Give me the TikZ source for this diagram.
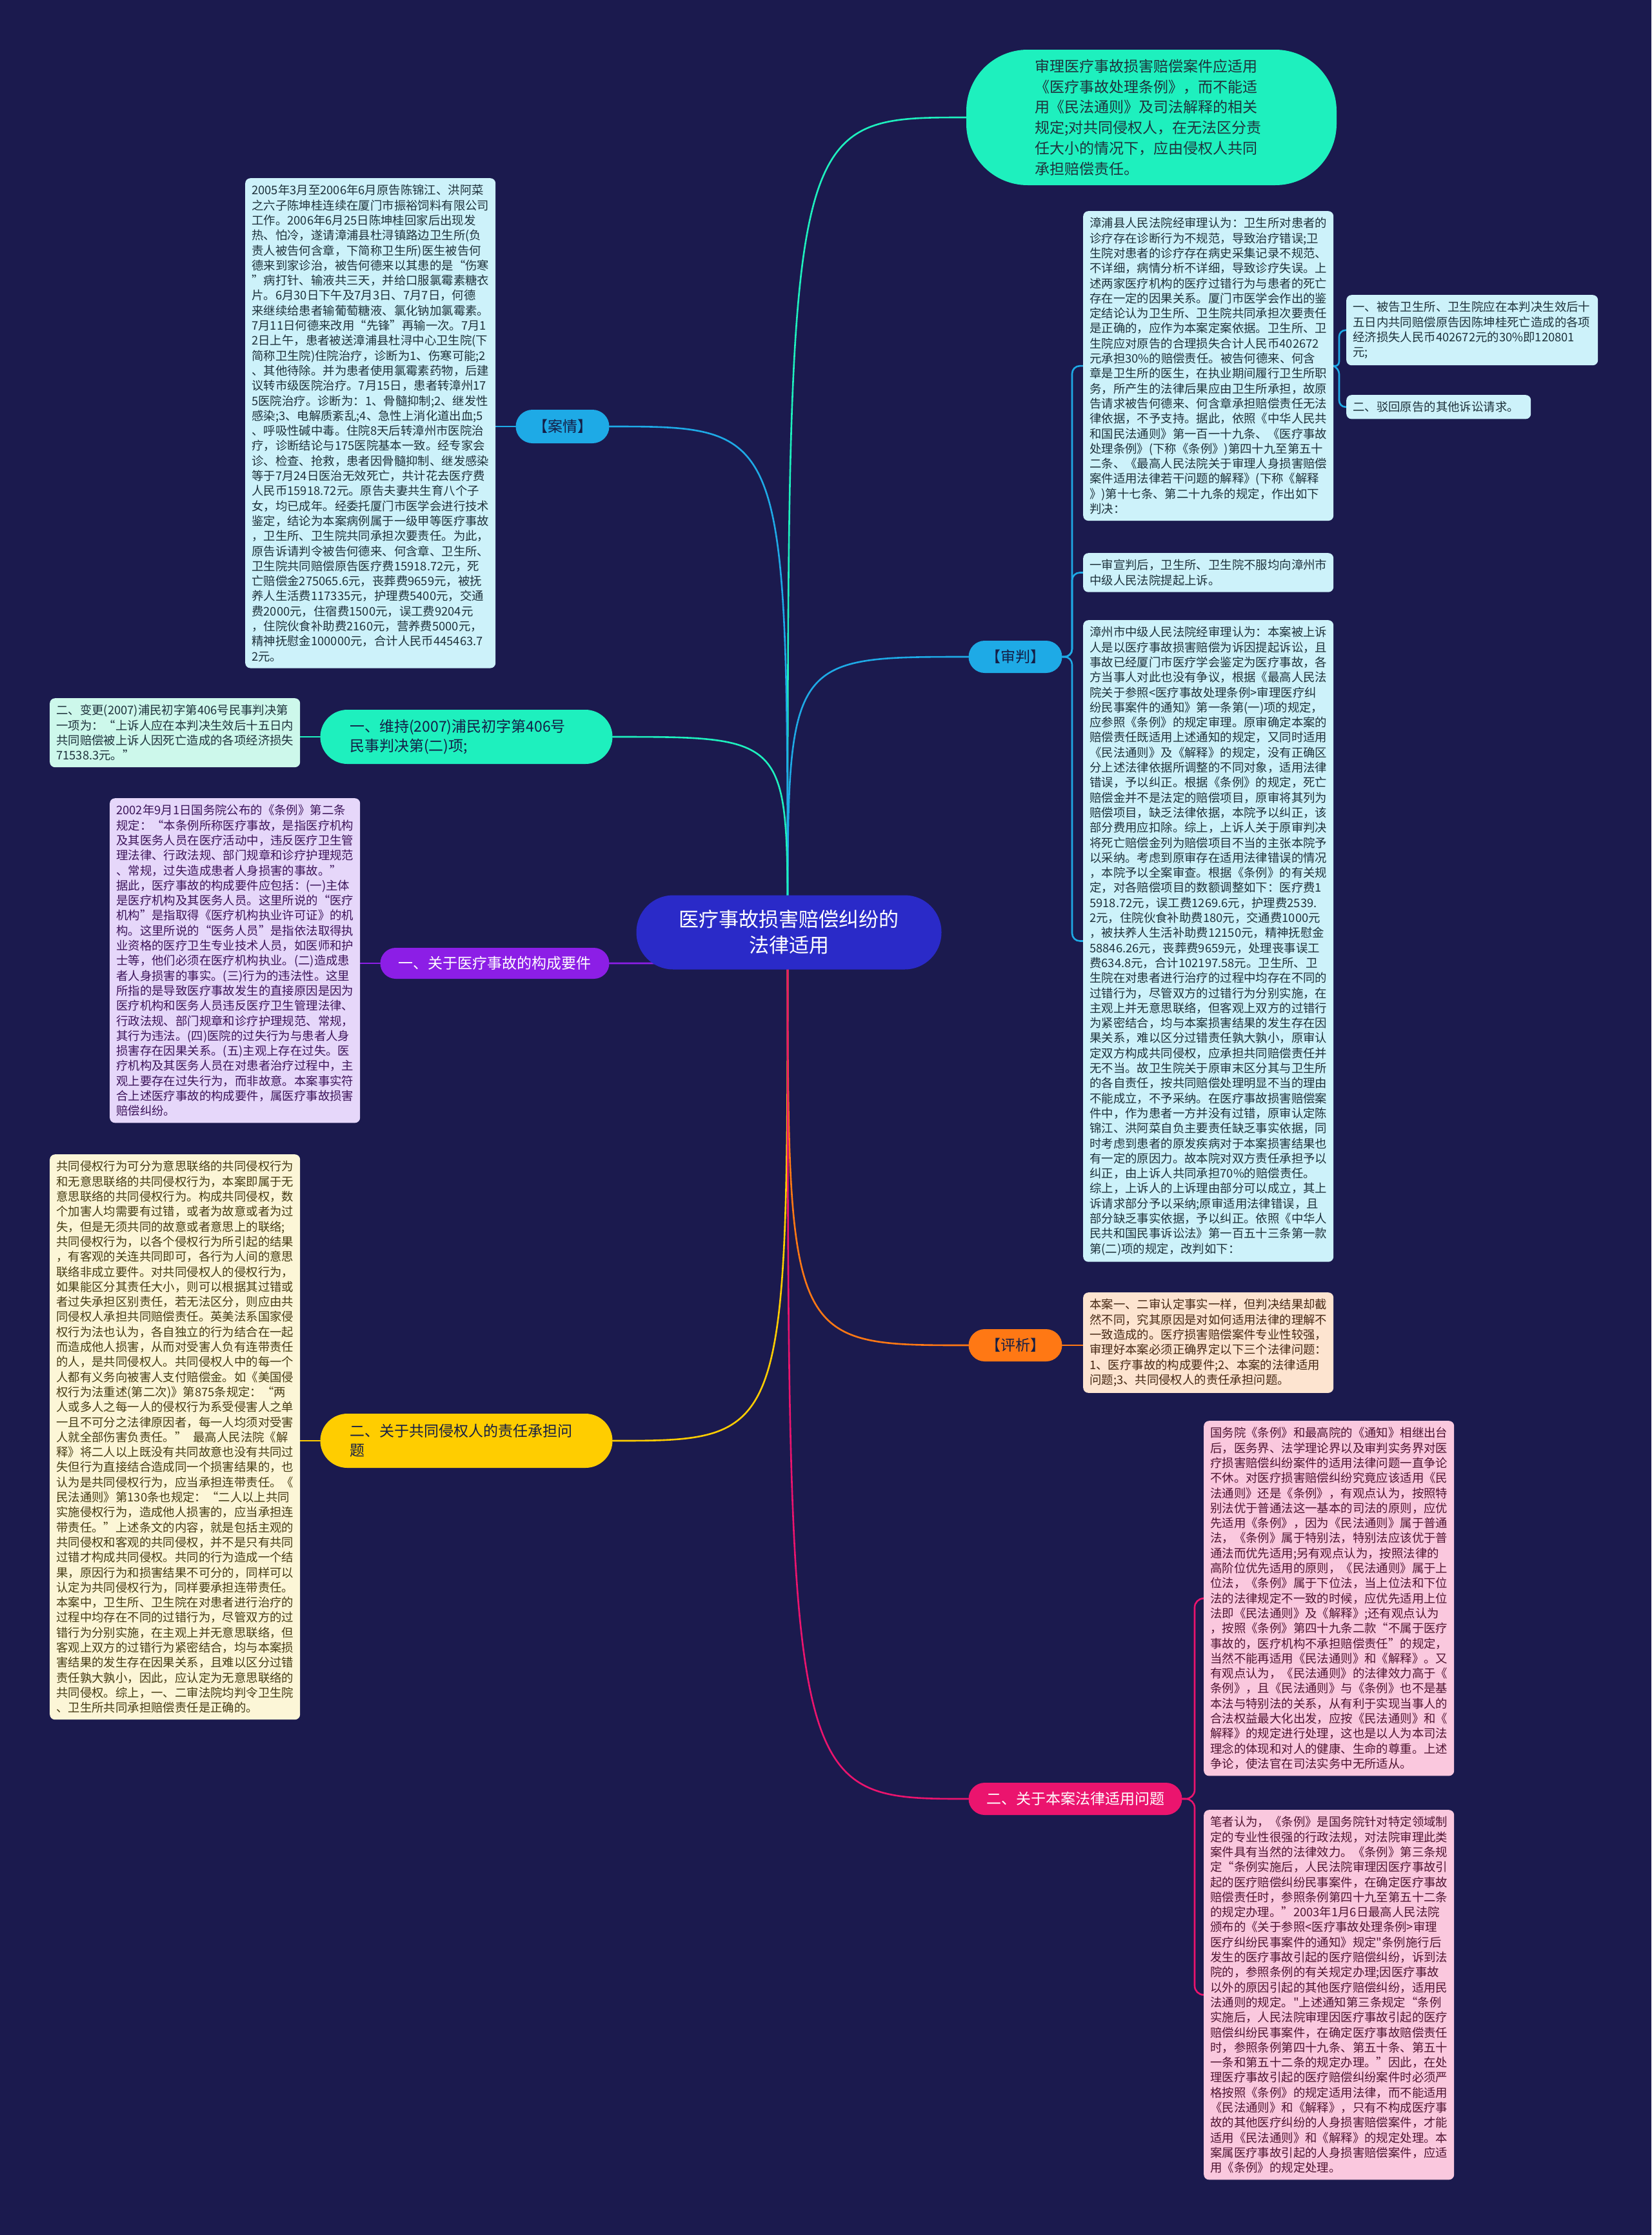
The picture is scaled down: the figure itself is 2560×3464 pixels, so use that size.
\documentclass[tikz,border=0pt]{standalone}
\usepackage{fontspec}
\newfontfamily\cjk{Noto Sans CJK SC}
\usetikzlibrary{calc}
\definecolor{bg}{RGB}{27,26,78}
\definecolor{centerC}{RGB}{42,42,200}
\definecolor{mint}{RGB}{30,240,190}
\definecolor{cyanN}{RGB}{30,170,230}
\definecolor{lcyan}{RGB}{205,242,250}
\definecolor{lmint}{RGB}{205,248,235}
\definecolor{purpN}{RGB}{140,30,230}
\definecolor{lav}{RGB}{230,215,250}
\definecolor{yelN}{RGB}{255,205,0}
\definecolor{lyel}{RGB}{252,246,215}
\definecolor{oraN}{RGB}{255,120,20}
\definecolor{peach}{RGB}{253,228,208}
\definecolor{pinkN}{RGB}{235,20,110}
\definecolor{lpink}{RGB}{250,200,222}
\definecolor{txtA}{RGB}{30,50,60}
\definecolor{txtP}{RGB}{60,20,90}
\definecolor{txtY}{RGB}{70,60,20}
\definecolor{txtO}{RGB}{70,40,20}
\definecolor{txtK}{RGB}{80,20,50}
\definecolor{navy}{RGB}{20,30,70}
\pgfdeclarelayer{back}
\pgfdeclarelayer{lines}
\pgfsetlayers{back,lines,main}
\tikzset{
  box/.style={rounded corners=8, anchor=north west, align=left, inner xsep=10, inner ysep=10,
    font=\cjk\fontsize{18.4}{23.3}\selectfont, text width=368},
  pill/.style={align=center, inner sep=0, font=\cjk\fontsize{23}{30}\selectfont},
  cn/.style={line width=2.6, line cap=round},
}
\newcommand{\crv}[3]{\draw[cn,#1] (#2) .. controls ($(#2)!1!(#2|-#3)$) and ($(#2)!1!(#2|-#3)$) .. (#3);}
\begin{document}
\begin{tikzpicture}[x=1pt,y=-1pt]
\begin{pgfonlayer}{back}
\fill[bg] (0,0) rectangle (2560,3464);
\end{pgfonlayer}
\useasboundingbox (0,0) rectangle (2560,3464);

% center
\node[pill, fill=centerC, text=white, minimum width=473, minimum height=115, rounded corners=57,
  font=\cjk\fontsize{31}{40}\selectfont] (c) at (1223,1445) {医疗事故损害赔偿纠纷的\\法律适用};
\coordinate (cs) at (1221,1445);

% top bubble
\node[pill, fill=mint, text=txtA, minimum width=574, minimum height=210, rounded corners=95,
  text width=362, align=left, font=\cjk\fontsize{23}{31.8}\selectfont] (top) at (1785,182)
{审理医疗事故损害赔偿案件应适用\\《医疗事故处理条例》，而不能适\\用《民法通则》及司法解释的相关\\规定;对共同侵权人，在无法区分责\\任大小的情况下，应由侵权人共同\\承担赔偿责任。};

% branch nodes
\node[pill, fill=cyanN, text=navy, minimum width=145, minimum height=52, rounded corners=26] (anq) at (872,661) {【案情】};
\node[pill, fill=cyanN, text=navy, minimum width=145, minimum height=50, rounded corners=25] (sp) at (1574,1018) {【审判】};
\node[pill, fill=oraN, text=navy, minimum width=145, minimum height=50, rounded corners=25] (px) at (1574,2085) {【评析】};
\node[pill, fill=mint, text=navy, minimum width=453, minimum height=84, rounded corners=42, text width=362, align=left] (wc) at (723,1142) {一、维持(2007)浦民初字第406号\\民事判决第(二)项;};
\node[pill, fill=purpN, text=white, minimum width=355, minimum height=48, rounded corners=24] (gc) at (767,1493) {一、关于医疗事故的构成要件};
\node[pill, fill=yelN, text=navy, minimum width=453, minimum height=84, rounded corners=42, text width=362, align=left] (gt) at (723,2233) {二、关于共同侵权人的责任承担问\\题};
\node[pill, fill=pinkN, text=white, minimum width=331, minimum height=50, rounded corners=25] (fl) at (1667,2788) {二、关于本案法律适用问题};

% text boxes
\node[box, fill=lcyan, text=txtA] (anqb) at (380,276) {2005年3月至2006年6月原告陈锦江、洪阿菜\\之六子陈坤桂连续在厦门市振裕饲料有限公司\\工作。2006年6月25日陈坤桂回家后出现发\\热、怕冷，遂请漳浦县杜浔镇路边卫生所(负\\责人被告何含章，下简称卫生所)医生被告何\\德来到家诊治，被告何德来以其患的是“伤寒\\”病打针、输液共三天，并给口服氯霉素糖衣\\片。6月30日下午及7月3日、7月7日，何德\\来继续给患者输葡萄糖液、氯化钠加氯霉素。\\7月11日何德来改用“先锋”再输一次。7月1\\2日上午，患者被送漳浦县杜浔中心卫生院(下\\简称卫生院)住院治疗，诊断为1、伤寒可能;2\\、其他待除。并为患者使用氯霉素药物，后建\\议转市级医院治疗。7月15日，患者转漳州17\\5医院治疗。诊断为：1、骨髓抑制;2、继发性\\感染;3、电解质紊乱;4、急性上消化道出血;5\\、呼吸性碱中毒。住院8天后转漳州市医院治\\疗，诊断结论与175医院基本一致。经专家会\\诊、检查、抢救，患者因骨髓抑制、继发感染\\等于7月24日医治无效死亡，共计花去医疗费\\人民币15918.72元。原告夫妻共生育八个子\\女，均已成年。经委托厦门市医学会进行技术\\鉴定，结论为本案病例属于一级甲等医疗事故\\，卫生所、卫生院共同承担次要责任。为此，\\原告诉请判令被告何德来、何含章、卫生所、\\卫生院共同赔偿原告医疗费15918.72元，死\\亡赔偿金275065.6元，丧葬费9659元，被抚\\养人生活费117335元，护理费5400元，交通\\费2000元，住宿费1500元，误工费9204元\\，住院伙食补助费2160元，营养费5000元，\\精神抚慰金100000元，合计人民币445463.7\\2元。};

\node[box, fill=lcyan, text=txtA] (zp) at (1679,327) {漳浦县人民法院经审理认为：卫生所对患者的\\诊疗存在诊断行为不规范，导致治疗错误;卫\\生院对患者的诊疗存在病史采集记录不规范、\\不详细，病情分析不详细，导致诊疗失误。上\\述两家医疗机构的医疗过错行为与患者的死亡\\存在一定的因果关系。厦门市医学会作出的鉴\\定结论认为卫生所、卫生院共同承担次要责任\\是正确的，应作为本案定案依据。卫生所、卫\\生院应对原告的合理损失合计人民币402672\\元承担30\%的赔偿责任。被告何德来、何含\\章是卫生所的医生，在执业期间履行卫生所职\\务，所产生的法律后果应由卫生所承担，故原\\告请求被告何德来、何含章承担赔偿责任无法\\律依据，不予支持。据此，依照《中华人民共\\和国民法通则》第一百一十九条、《医疗事故\\处理条例》(下称《条例》)第四十九至第五十\\二条、《最高人民法院关于审理人身损害赔偿\\案件适用法律若干问题的解释》(下称《解释\\》)第十七条、第二十九条的规定，作出如下\\判决：};

\node[box, fill=lcyan, text=txtA, text width=370] (za) at (2087,457) {一、被告卫生所、卫生院应在本判决生效后十\\五日内共同赔偿原告因陈坤桂死亡造成的各项\\经济损失人民币402672元的30\%即120801\\元;};
\node[box, fill=lcyan, text=txtA, text width=266] (zb) at (2087,612) {二、驳回原告的其他诉讼请求。};

\node[box, fill=lcyan, text=txtA] (ys) at (1679,857) {一审宣判后，卫生所、卫生院不服均向漳州市\\中级人民法院提起上诉。};

\node[box, fill=lcyan, text=txtA] (zz) at (1679,961) {漳州市中级人民法院经审理认为：本案被上诉\\人是以医疗事故损害赔偿为诉因提起诉讼，且\\事故已经厦门市医疗学会鉴定为医疗事故，各\\方当事人对此也没有争议，根据《最高人民法\\院关于参照<医疗事故处理条例>审理医疗纠\\纷民事案件的通知》第一条第(一)项的规定，\\应参照《条例》的规定审理。原审确定本案的\\赔偿责任既适用上述通知的规定，又同时适用\\《民法通则》及《解释》的规定，没有正确区\\分上述法律依据所调整的不同对象，适用法律\\错误，予以纠正。根据《条例》的规定，死亡\\赔偿金并不是法定的赔偿项目，原审将其列为\\赔偿项目，缺乏法律依据，本院予以纠正，该\\部分费用应扣除。综上，上诉人关于原审判决\\将死亡赔偿金列为赔偿项目不当的主张本院予\\以采纳。考虑到原审存在适用法律错误的情况\\，本院予以全案审查。根据《条例》的有关规\\定，对各赔偿项目的数额调整如下：医疗费1\\5918.72元，误工费1269.6元，护理费2539.\\2元，住院伙食补助费180元，交通费1000元\\，被扶养人生活补助费12150元，精神抚慰金\\58846.26元，丧葬费9659元，处理丧事误工\\费634.8元，合计102197.58元。卫生所、卫\\生院在对患者进行治疗的过程中均存在不同的\\过错行为，尽管双方的过错行为分别实施，在\\主观上并无意思联络，但客观上双方的过错行\\为紧密结合，均与本案损害结果的发生存在因\\果关系，难以区分过错责任孰大孰小，原审认\\定双方构成共同侵权，应承担共同赔偿责任并\\无不当。故卫生院关于原审末区分其与卫生所\\的各自责任，按共同赔偿处理明显不当的理由\\不能成立，不予采纳。在医疗事故损害赔偿案\\件中，作为患者一方并没有过错，原审认定陈\\锦江、洪阿菜自负主要责任缺乏事实依据，同\\时考虑到患者的原发疾病对于本案损害结果也\\有一定的原因力。故本院对双方责任承担予以\\纠正，由上诉人共同承担70\%的赔偿责任。\\综上，上诉人的上诉理由部分可以成立，其上\\诉请求部分予以采纳;原审适用法律错误，且\\部分缺乏事实依据，予以纠正。依照《中华人\\民共和国民事诉讼法》第一百五十三条第一款\\第(二)项的规定，改判如下：};

\node[box, fill=lmint, text=txtA] (bg) at (77,1082) {二、变更(2007)浦民初字第406号民事判决第\\一项为：“上诉人应在本判决生效后十五日内\\共同赔偿被上诉人因死亡造成的各项经济损失\\71538.3元。”};

\node[box, fill=lav, text=txtP] (tl) at (170,1237) {2002年9月1日国务院公布的《条例》第二条\\规定：“本条例所称医疗事故，是指医疗机构\\及其医务人员在医疗活动中，违反医疗卫生管\\理法律、行政法规、部门规章和诊疗护理规范\\、常规，过失造成患者人身损害的事故。”\\据此，医疗事故的构成要件应包括：(一)主体\\是医疗机构及其医务人员。这里所说的“医疗\\机构”是指取得《医疗机构执业许可证》的机\\构。这里所说的“医务人员”是指依法取得执\\业资格的医疗卫生专业技术人员，如医师和护\\士等，他们必须在医疗机构执业。(二)造成患\\者人身损害的事实。(三)行为的违法性。这里\\所指的是导致医疗事故发生的直接原因是因为\\医疗机构和医务人员违反医疗卫生管理法律、\\行政法规、部门规章和诊疗护理规范、常规，\\其行为违法。(四)医院的过失行为与患者人身\\损害存在因果关系。(五)主观上存在过失。医\\疗机构及其医务人员在对患者治疗过程中，主\\观上要存在过失行为，而非故意。本案事实符\\合上述医疗事故的构成要件，属医疗事故损害\\赔偿纠纷。};

\node[box, fill=lyel, text=txtY] (gtb) at (77,1789) {共同侵权行为可分为意思联络的共同侵权行为\\和无意思联络的共同侵权行为，本案即属于无\\意思联络的共同侵权行为。构成共同侵权，数\\个加害人均需要有过错，或者为故意或者为过\\失，但是无须共同的故意或者意思上的联络;\\共同侵权行为，以各个侵权行为所引起的结果\\，有客观的关连共同即可，各行为人间的意思\\联络非成立要件。对共同侵权人的侵权行为，\\如果能区分其责任大小，则可以根据其过错或\\者过失承担区别责任，若无法区分，则应由共\\同侵权人承担共同赔偿责任。英美法系国家侵\\权行为法也认为，各自独立的行为结合在一起\\而造成他人损害，从而对受害人负有连带责任\\的人，是共同侵权人。共同侵权人中的每一个\\人都有义务向被害人支付赔偿金。如《美国侵\\权行为法重述(第二次)》第875条规定：“两\\人或多人之每一人的侵权行为系受侵害人之单\\一且不可分之法律原因者，每一人均须对受害\\人就全部伤害负责任。”\hspace{10pt}最高人民法院《解\\释》将二人以上既没有共同故意也没有共同过\\失但行为直接结合造成同一个损害结果的，也\\认为是共同侵权行为，应当承担连带责任。《\\民法通则》第130条也规定：“二人以上共同\\实施侵权行为，造成他人损害的，应当承担连\\带责任。”上述条文的内容，就是包括主观的\\共同侵权和客观的共同侵权，并不是只有共同\\过错才构成共同侵权。共同的行为造成一个结\\果，原因行为和损害结果不可分的，同样可以\\认定为共同侵权行为，同样要承担连带责任。\\本案中，卫生所、卫生院在对患者进行治疗的\\过程中均存在不同的过错行为，尽管双方的过\\错行为分别实施，在主观上并无意思联络，但\\客观上双方的过错行为紧密结合，均与本案损\\害结果的发生存在因果关系，且难以区分过错\\责任孰大孰小，因此，应认定为无意思联络的\\共同侵权。综上，一、二审法院均判令卫生院\\、卫生所共同承担赔偿责任是正确的。};

\node[box, fill=peach, text=txtO] (pxb) at (1679,2003) {本案一、二审认定事实一样，但判决结果却截\\然不同，究其原因是对如何适用法律的理解不\\一致造成的。医疗损害赔偿案件专业性较强，\\审理好本案必须正确界定以下三个法律问题：\\1、医疗事故的构成要件;2、本案的法律适用\\问题;3、共同侵权人的责任承担问题。};

\node[box, fill=lpink, text=txtK] (gw) at (1866,2202) {国务院《条例》和最高院的《通知》相继出台\\后，医务界、法学理论界以及审判实务界对医\\疗损害赔偿纠纷案件的适用法律问题一直争论\\不休。对医疗损害赔偿纠纷究竟应该适用《民\\法通则》还是《条例》，有观点认为，按照特\\别法优于普通法这一基本的司法的原则，应优\\先适用《条例》，因为《民法通则》属于普通\\法，《条例》属于特别法，特别法应该优于普\\通法而优先适用;另有观点认为，按照法律的\\高阶位优先适用的原则，《民法通则》属于上\\位法，《条例》属于下位法，当上位法和下位\\法的法律规定不一致的时候，应优先适用上位\\法即《民法通则》及《解释》;还有观点认为\\，按照《条例》第四十九条二款“不属于医疗\\事故的，医疗机构不承担赔偿责任”的规定，\\当然不能再适用《民法通则》和《解释》。又\\有观点认为，《民法通则》的法律效力高于《\\条例》，且《民法通则》与《条例》也不是基\\本法与特别法的关系，从有利于实现当事人的\\合法权益最大化出发，应按《民法通则》和《\\解释》的规定进行处理，这也是以人为本司法\\理念的体现和对人的健康、生命的尊重。上述\\争论，使法官在司法实务中无所适从。};

\node[box, fill=lpink, text=txtK] (bz) at (1866,2805) {笔者认为，《条例》是国务院针对特定领域制\\定的专业性很强的行政法规，对法院审理此类\\案件具有当然的法律效力。《条例》第三条规\\定“条例实施后，人民法院审理因医疗事故引\\起的医疗赔偿纠纷民事案件，在确定医疗事故\\赔偿责任时，参照条例第四十九至第五十二条\\的规定办理。”2003年1月6日最高人民法院\\颁布的《关于参照<医疗事故处理条例>审理\\医疗纠纷民事案件的通知》规定"条例施行后\\发生的医疗事故引起的医疗赔偿纠纷，诉到法\\院的，参照条例的有关规定办理;因医疗事故\\以外的原因引起的其他医疗赔偿纠纷，适用民\\法通则的规定。"上述通知第三条规定“条例\\实施后，人民法院审理因医疗事故引起的医疗\\赔偿纠纷民事案件，在确定医疗事故赔偿责任\\时，参照条例第四十九条、第五十条、第五十\\一条和第五十二条的规定办理。”因此，在处\\理医疗事故引起的医疗赔偿纠纷案件时必须严\\格按照《条例》的规定适用法律，而不能适用\\《民法通则》和《解释》，只有不构成医疗事\\故的其他医疗纠纷的人身损害赔偿案件，才能\\适用《民法通则》和《解释》的规定处理。本\\案属医疗事故引起的人身损害赔偿案件，应适\\用《条例》的规定处理。};

% connectors
\begin{pgfonlayer}{lines}
\crv{mint}{cs}{top.west}
\crv{cyanN}{cs}{anq.east}
\crv{cyanN}{cs}{sp.west}
\crv{mint}{cs}{wc.east}
\crv{purpN}{cs}{gc.east}
\crv{yelN}{cs}{gt.east}
\crv{oraN}{cs}{px.west}
\crv{pinkN}{cs}{fl.west}
\draw[cn,cyanN] (anq.west) -- (anqb.east|-anq.west);
\draw[cn,mint] (wc.west) -- (bg.east|-wc.west);
\draw[cn,purpN] (gc.west) -- (tl.east|-gc.west);
\draw[cn,yelN] (gt.west) -- (gtb.east|-gt.west);
\draw[cn,oraN] (px.east) -- (pxb.west|-px.east);
\draw[cn,cyanN,rounded corners=12] (sp.east) -- (1662,1018) |- (zp.west);
\draw[cn,cyanN,rounded corners=12] (sp.east) -- (1662,1018) |- (ys.west);
\draw[cn,cyanN,rounded corners=12] (sp.east) -- (1662,1018) |- (zz.west);
\draw[cn,cyanN,rounded corners=10] (zp.east) -- (2076,570) |- (za.west);
\draw[cn,cyanN,rounded corners=10] (zp.east) -- (2076,570) |- (zb.west);
\draw[cn,pinkN,rounded corners=14] (fl.east) -- (1852,2788) |- (gw.west);
\draw[cn,pinkN,rounded corners=14] (fl.east) -- (1852,2788) |- (bz.west);
\end{pgfonlayer}
\end{tikzpicture}
\end{document}
